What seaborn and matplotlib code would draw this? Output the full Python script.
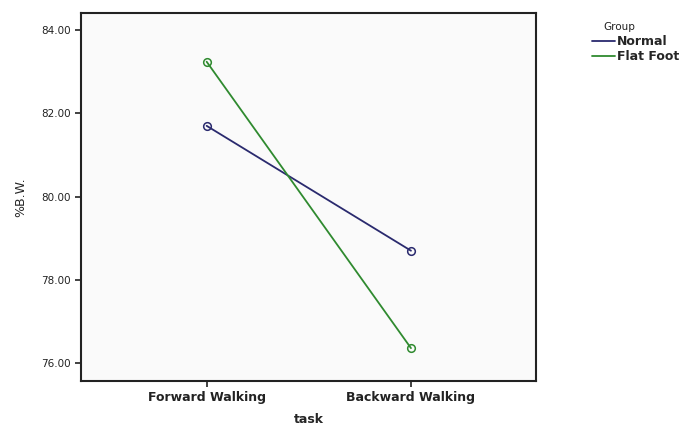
import pandas as pd
import matplotlib
matplotlib.use('Agg')
import matplotlib.pyplot as plt
from matplotlib.lines import Line2D
import seaborn as sns

tasks = ['Forward Walking', 'Backward Walking']
groups = ['Normal', 'Flat Foot']
normal = [81.70, 78.70]
flat_foot = [83.24, 76.36]
colors = {'Normal': '#2a2a6e', 'Flat Foot': '#2f8a2f'}

df = pd.DataFrame({
    'task': tasks * 2,
    'Group': ['Normal'] * 2 + ['Flat Foot'] * 2,
    'pbw': normal + flat_foot,
})

sns.set_style('ticks')
plt.rcParams['font.family'] = ['DejaVu Sans']

fig = plt.figure(figsize=(6.85, 4.25), dpi=100)
ax = fig.add_axes([81 / 685, 1 - 381 / 425, (536 - 81) / 685, (381 - 13) / 425])
ax.set_facecolor('#fafafa')

sns.lineplot(data=df, x='task', y='pbw', hue='Group', hue_order=groups,
             palette=colors, marker='o', ax=ax, linewidth=1.3, legend=False)
for line in ax.lines:
    line.set_markerfacecolor('none')
    line.set_markeredgecolor(line.get_color())
    line.set_markersize(5.5)
    line.set_markeredgewidth(1.1)

ax.set_xlim(-0.615, 1.612)
ax.set_ylim(75.57, 84.41)
ax.set_yticks([76, 78, 80, 82, 84])
ax.set_yticklabels([f'{v:.2f}' for v in [76, 78, 80, 82, 84]], fontsize=7.5, color='#222222')
ax.set_xticks([0, 1])
ax.set_xticklabels(tasks, fontsize=9, fontweight='bold', color='#222222')
ax.tick_params(direction='out', length=4, width=1.2, color='#222222')
for s in ax.spines.values():
    s.set_linewidth(1.5)
    s.set_color('#222222')

ax.set_xlabel('task', fontsize=9, fontweight='bold', labelpad=6)
ax.set_ylabel('%B.W.', fontsize=9, labelpad=10)

# legend to the right, title indented like the original
fig.text(603 / 685, 1 - 27 / 425, 'Group', fontsize=7.5, va='center', color='#222222')
handles = [Line2D([], [], color=colors[g], linewidth=1.3) for g in groups]
fig.legend(handles, groups, loc='upper left',
           bbox_to_anchor=(592 / 685, 1 - 35 / 425), frameon=False,
           prop={'size': 9, 'weight': 'bold'},
           handlelength=1.8, handletextpad=0.2, labelspacing=0.15,
           borderaxespad=0, borderpad=0)

fig.savefig('out.png', dpi=100)
